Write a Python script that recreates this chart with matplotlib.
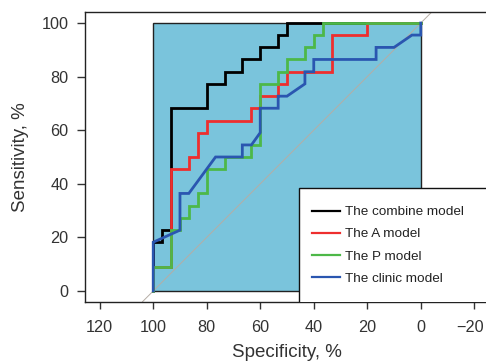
import matplotlib
matplotlib.use("Agg")
import matplotlib.pyplot as plt
from matplotlib.patches import Rectangle
from matplotlib.transforms import ScaledTranslation

plt.rcParams['font.family'] = ['Liberation Sans', 'DejaVu Sans']

# ROC curves: specificity (%) and sensitivity (%) vertices
combine_spec = [100, 100, 96.7, 96.7, 93.3, 93.3, 80, 80, 73.3, 73.3, 66.7, 66.7, 60, 60, 53.3, 53.3, 50, 50, 0]
combine_sens = [0, 18.2, 18.2, 22.7, 22.7, 68.2, 68.2, 77.3, 77.3, 81.8, 81.8, 86.4, 86.4, 90.9, 90.9, 95.5, 95.5, 100, 100]

a_spec = [100, 100, 93.3, 93.3, 86.7, 86.7, 83.3, 83.3, 80, 80, 63.3, 63.3, 60, 60, 53.3, 53.3, 50, 50, 33.3, 33.3, 20, 20, 0]
a_sens = [0, 9.1, 9.1, 45.5, 45.5, 50, 50, 59.1, 59.1, 63.6, 63.6, 68.2, 68.2, 72.7, 72.7, 77.3, 77.3, 81.8, 81.8, 95.5, 95.5, 100, 100]

p_spec = [100, 100, 93.3, 93.3, 90, 90, 86.7, 86.7, 83.3, 83.3, 80, 80, 73.3, 73.3, 63.3, 63.3, 60, 60,
          53.3, 53.3, 50, 50, 43.3, 43.3, 40, 40, 36.7, 36.7, 0]
p_sens = [0, 9.1, 9.1, 22.7, 22.7, 27.3, 27.3, 31.8, 31.8, 36.4, 36.4, 45.5, 45.5, 50, 50, 54.5, 54.5, 77.3,
          77.3, 81.8, 81.8, 86.4, 86.4, 90.9, 90.9, 95.5, 95.5, 100, 100]

clinic_spec = [100, 100, 90, 90, 86.7, 76.7, 66.7, 66.7, 63.3, 60, 60, 53.3, 53.3, 50, 43.3, 43.3, 40, 40,
               16.7, 16.7, 10, 3.3, 0, 0]
clinic_sens = [0, 18.2, 22.7, 36.4, 36.4, 50, 50, 54.5, 54.5, 59.1, 68.2, 68.2, 72.7, 72.7, 77.3, 81.8, 81.8, 86.4,
               86.4, 90.9, 90.9, 95.5, 95.5, 100]

labels = ["The combine model", "The A model", "The P model", "The clinic model"]
colors = ["#000000", "#EE2E2E", "#4DB848", "#2A56B0"]

xticks = [120, 100, 80, 60, 40, 20, 0, -20]
yticks = [0, 20, 40, 60, 80, 100]
area_spec = [100, 0]
area_sens = [0, 100]

fig = plt.figure(figsize=(4.86, 3.64), dpi=100)
ax = fig.add_axes([85 / 486, 62.3 / 364, (489 - 85) / 486, 289.4 / 364])
ax.set_xlim(125.5, -25.5)
ax.set_ylim(-4, 104)

# shaded square
ax.add_patch(Rectangle((area_spec[1], area_sens[0]), area_spec[0] - area_spec[1], area_sens[1] - area_sens[0],
                       facecolor="#7AC4DC", edgecolor="#222222", lw=1.0, zorder=1))
ax.axline((area_spec[0], area_sens[0]), (area_spec[1], area_sens[1]), color="#B5ADA5", lw=0.7, zorder=2)

series = [(combine_spec, combine_sens), (a_spec, a_sens), (p_spec, p_sens), (clinic_spec, clinic_sens)]
handles = []
for (sx, sy), c, lab in zip(series, colors, labels):
    h, = ax.plot(sx, sy, color=c, lw=2.0, label=lab, zorder=3, solid_joinstyle='miter')
    handles.append(h)

# legend box
leg_left, leg_top = 45.7, 38.4
ax.add_patch(Rectangle((-40, -10), leg_left + 40, leg_top + 10, facecolor="white", edgecolor="#111111",
                       lw=1.0, zorder=5, clip_on=True))
leg = ax.legend(handles=handles, loc="upper left", bbox_to_anchor=(leg_left, leg_top - 1.6),
                bbox_transform=ax.transData, frameon=False, fontsize=9.7, borderpad=1.0,
                handlelength=2.1, handletextpad=0.37, labelspacing=0.72, borderaxespad=0)
leg.set_zorder(6)
for t in leg.get_texts():
    t.set_color("#222222")
for lh in leg.legend_handles:
    lh.set_linewidth(1.6)

ax.set_xticks(xticks)
ax.set_xticklabels([f"{v}".replace("-", "\u2212") for v in xticks])
ax.set_yticks(yticks)
ax.tick_params(axis='x', length=5, width=1, pad=8, labelsize=11.7, colors="#333333", labelcolor="#333333")
ax.tick_params(axis='y', length=6, width=1, pad=6, labelsize=11.7, colors="#333333", labelcolor="#333333")
last = ax.get_xticklabels()[-1]
last.set_transform(last.get_transform() + ScaledTranslation(-4 / 100, 0, fig.dpi_scale_trans))
for s in ax.spines.values():
    s.set_color("#222222")
    s.set_linewidth(1.0)

ax.set_xlabel("Specificity, %", fontsize=13.5, color="#333333", labelpad=7)
ax.set_ylabel("Sensitivity, %", fontsize=13.5, color="#333333", labelpad=9)

fig.savefig("out.png", dpi=100)
